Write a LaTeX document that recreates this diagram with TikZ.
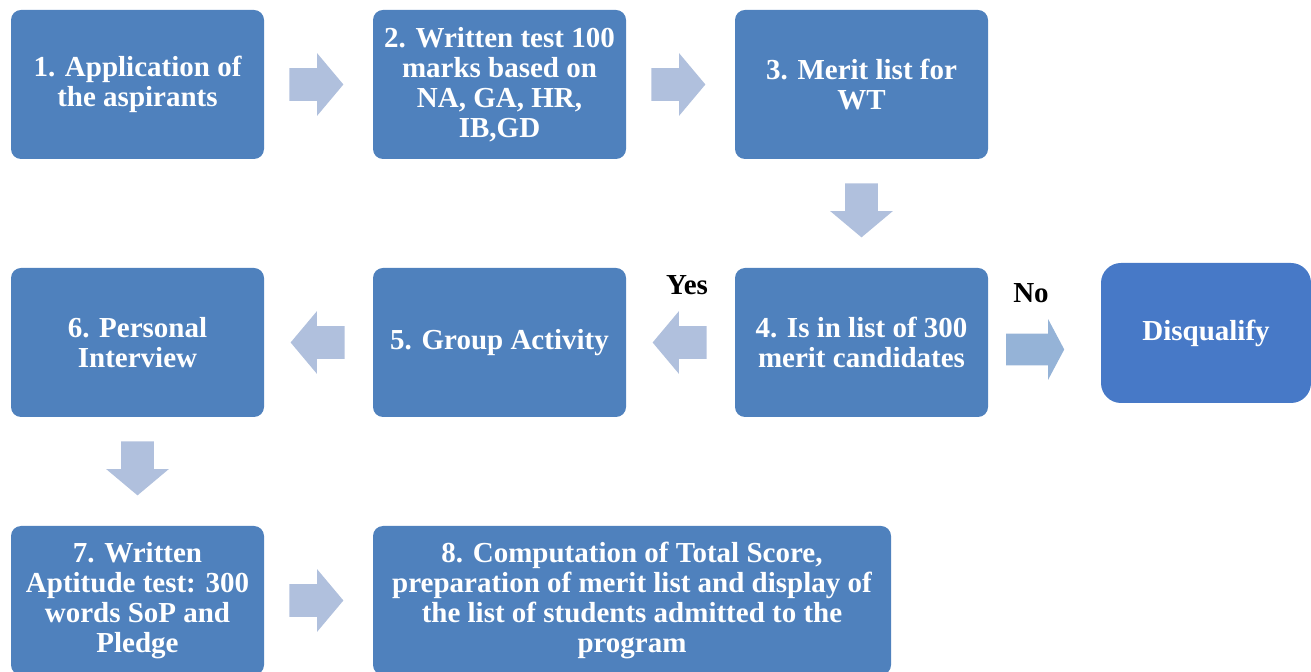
\documentclass[tikz,border=0pt]{standalone}
\usepackage{fontspec}
\setmainfont{Liberation Serif}
\usepackage{tikz}
\usetikzlibrary{positioning}
\usetikzlibrary{shapes.arrows}
\definecolor{boxblue}{HTML}{4F81BD}
\definecolor{dqblue}{HTML}{4779C7}
\definecolor{arrowblue}{HTML}{B0C0DD}
\definecolor{noblue}{HTML}{95B3D7}

\begin{document}
\begin{tikzpicture}
[x=0.5pt, y=0.5pt, node distance=54.5pt,
stepbox/.style={rectangle, rounded corners=5pt, fill=boxblue, text=white, font=\bfseries\fontsize{14.5}{15}\selectfont, align=center, minimum width=126.5pt, minimum height=74.5pt, inner sep=2pt, outer sep=0pt},
dqbox/.style={stepbox, fill=dqblue, rounded corners=10pt, minimum width=105pt, minimum height=70pt},
flowarrow/.style={single arrow, fill=arrowblue, inner xsep=0pt, inner ysep=8pt, single arrow head extend=7.5pt, single arrow tip angle=100, minimum height=27pt},
rarrow/.style={flowarrow, xshift=-4.5pt},
larrow/.style={flowarrow, rotate=180, xshift=-3pt},
darrow/.style={flowarrow, rotate=-90, xshift=-5pt},
noarrow/.style={single arrow, fill=noblue, inner xsep=0pt, inner ysep=7.75pt, single arrow head extend=7.25pt, single arrow tip angle=124, minimum height=29pt},
lbl/.style={font=\bfseries\fontsize{14.5}{15}\selectfont},
]
\useasboundingbox (0,0) rectangle (1311,-672);

\node[stepbox]	(b1) at (137.5,-84.5) {1. Application of\\the aspirants};
\node[stepbox]	(b2) [right=of b1] {2. Written test 100\\marks based on\\NA, GA, HR,\\IB,GD};
\node[stepbox]	(b3) [right=of b2] {3. Merit list for\\WT};
\node[stepbox]	(b4) [below=of b3] {4. Is in list of 300\\merit candidates};
\node[stepbox]	(b5) [left=of b4] {5. Group Activity};
\node[stepbox]	(b6) [left=of b5] {6. Personal\\Interview};
\node[stepbox]	(b7) [below=of b6] {7. Written\\Aptitude test: 300\\words SoP and\\Pledge};
\node[stepbox, minimum width=259pt]	(b8) [right=of b7] {8. Computation of Total Score,\\preparation of merit list and display of\\the list of students admitted to the\\program};
\node[dqbox]	(dq) [right=56.5pt of b4, yshift=4.75pt] {Disqualify};

\path (b1) -- (b2) node[midway, rarrow] (a12) {};
\path (b2) -- (b3) node[midway, rarrow] (a23) {};
\path (b3) -- (b4) node[midway, darrow] (a34) {};
\path (b4) -- (b5) node[midway, larrow] (a45) {};
\path (b5) -- (b6) node[midway, larrow] (a56) {};
\path (b6) -- (b7) node[midway, darrow] (a67) {};
\path (b7) -- (b8) node[midway, rarrow] (a78) {};
\path (b4) -- (dq) node[midway, noarrow, xshift=-6.75pt, yshift=-6pt] (a4d) {};

\node[lbl]	(yes) at (687,-285) {Yes};
\node[lbl]	(no) at (1031,-293) {No};
\end{tikzpicture}
\end{document}
